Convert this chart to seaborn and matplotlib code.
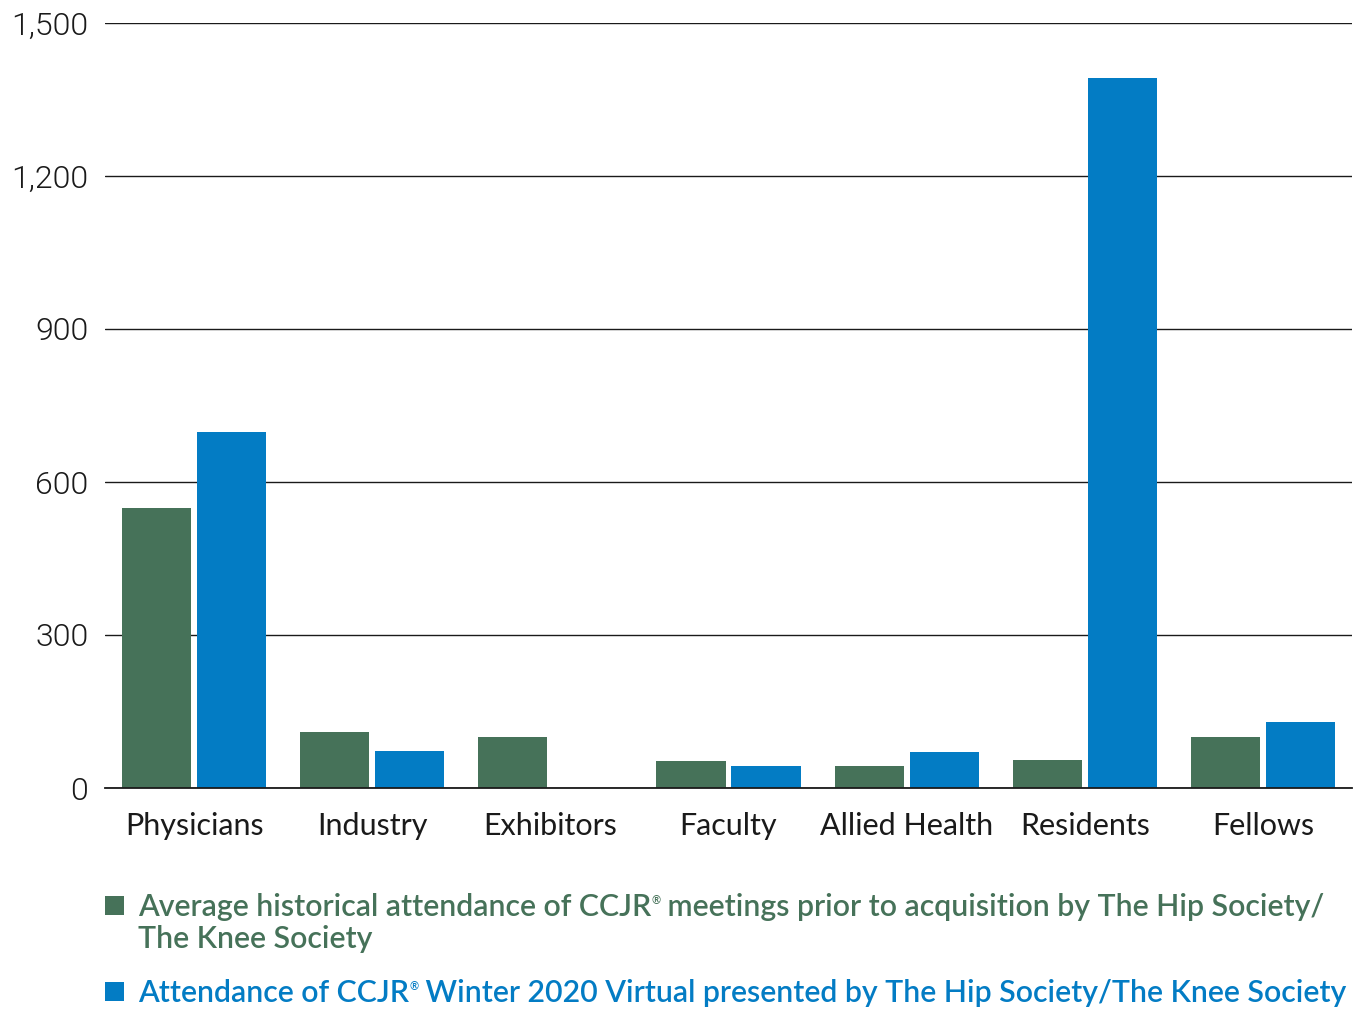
import matplotlib
matplotlib.use("Agg")
import matplotlib.pyplot as plt
from matplotlib.patches import Rectangle
import seaborn as sns
import pandas as pd

categories = ["Physicians", "Industry", "Exhibitors", "Faculty", "Allied Health", "Residents", "Fellows"]
historical = [549, 110, 100, 53, 43, 55, 100]
virtual2020 = [698, 73, 0, 43, 70, 1392, 129]
series_names = [
    "Average historical attendance of CCJR\u00ae meetings prior to acquisition by The Hip Society/The Knee Society",
    "Attendance of CCJR\u00ae Winter 2020 Virtual presented by The Hip Society/The Knee Society",
]
yticks = [0, 300, 600, 900, 1200, 1500]
ytick_labels = ["0", "300", "600", "900", "1,200", "1,500"]
colors = ["#467259", "#037CC4"]

sns.set_theme(style="white")
plt.rcParams["font.family"] = ["Lato", "DejaVu Sans"]

df = pd.DataFrame({
    "category": categories * 2,
    "value": historical + virtual2020,
    "series": [series_names[0]] * len(categories) + [series_names[1]] * len(categories),
})

fig = plt.figure(figsize=(13.57, 10.09), dpi=100)
ax = fig.add_axes([105 / 1357, 1 - 788 / 1009, (1352 - 105) / 1357, (788 - 23) / 1009])

sns.barplot(data=df, x="category", y="value", hue="series", palette=colors,
            width=0.842, gap=0.078, order=categories, hue_order=series_names,
            ax=ax, legend=False, saturation=1, linewidth=0)

ax.set_xlim(-0.5, len(categories) - 0.5)
ax.set_ylim(0, 1500)
ax.set_yticks(yticks)
ax.set_yticklabels(ytick_labels, fontsize=23, fontweight="normal", color="#1a1a1a",
                   family=["Roboto", "Lato", "DejaVu Sans"])
for t in ax.get_yticklabels():
    t.set_fontweight(300)
ax.tick_params(axis="y", length=0, pad=12)
ax.tick_params(axis="x", length=0, pad=17, labelsize=22, labelcolor="#1a1a1a")
ax.set_xlabel("")
ax.set_ylabel("")
ax.set_axisbelow(True)
ax.yaxis.grid(True, color="#1a1a1a", linewidth=1.0)
ax.xaxis.grid(False)
for s in ["top", "right", "left"]:
    ax.spines[s].set_visible(False)
ax.spines["bottom"].set_color("#1a1a1a")
ax.spines["bottom"].set_linewidth(1.3)

# legend (drawn manually so the wrapped label and the small superscript ® match)
W, H = 1357, 1009
renderer = fig.canvas.get_renderer()
FS = 21.8


def draw_runs(x_px, base_px, runs, color):
    x = x_px
    for s, size, rise in runs:
        t = fig.text(x / W, 1 - (base_px - rise) / H, s, fontsize=size, color=color,
                     fontweight="semibold", va="baseline", ha="left")
        x += t.get_window_extent(renderer).width


def split_label(label):
    before, after = label.split("\u00ae", 1)
    return before, after


# series 1: two lines
b1, a1 = split_label(series_names[0])
a1_line1, a1_line2 = a1.split("Society/", 1)
fig.patches.append(Rectangle((105 / W, 1 - 914.5 / H), 19 / W, 19 / H,
                             transform=fig.transFigure, facecolor=colors[0], edgecolor="none"))
draw_runs(138, 916, [(b1, FS, 0), ("\u00ae", 8, 12), (a1_line1 + "Society/", FS, 0)], colors[0])
draw_runs(138, 948, [(a1_line2, FS, 0)], colors[0])

# series 2: one line
b2, a2 = split_label(series_names[1])
fig.patches.append(Rectangle((105 / W, 1 - 1000.5 / H), 19 / W, 19 / H,
                             transform=fig.transFigure, facecolor=colors[1], edgecolor="none"))
draw_runs(138, 1002, [(b2, FS, 0), ("\u00ae", 8, 12), (a2, FS, 0)], colors[1])

fig.savefig("out.png", dpi=100)
